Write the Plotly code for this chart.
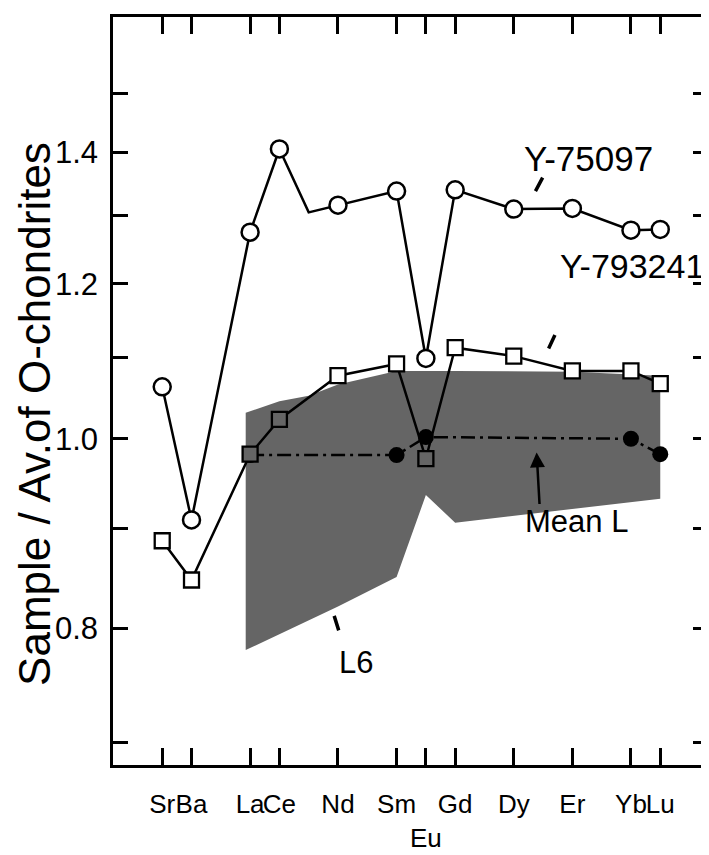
import numpy as np
import plotly.graph_objects as go

# ---------------- data ----------------
elements = ["Sr", "Ba", "La", "Ce", "Nd", "Sm", "Eu", "Gd", "Dy", "Er", "Yb", "Lu"]
positions = [54, 55, 57, 58, 60, 62, 63, 64, 66, 68, 70, 71]

# Y-75097 (open circles); line has an extra unmarked vertex at Pr (pos 59)
y75097 = [1.063, 0.909, 1.275, 1.406, 1.316, 1.338, 1.099, 1.340, 1.310, 1.311, 1.278, 1.279]
pr_pos = 59
pr_val_75097 = 1.305

# Y-793241 (open squares)
y793241 = [0.887, 0.847, 0.982, 1.023, 1.077, 1.092, 0.977, 1.113, 1.102, 1.083, 1.083, 1.067]

# Mean L (filled circles)
meanL_el = ["La", "Sm", "Eu", "Yb", "Lu"]
meanL_val = [0.981, 0.981, 1.002, 1.000, 0.982]

# L6 range (shaded)
l6_upper_pos = [56.85, 58, 59, 60, 62, 64, 68, 71]
l6_upper_val = [1.031, 1.045, 1.052, 1.066, 1.083, 1.083, 1.082, 1.077]
l6_lower_pos = [56.85, 60, 62, 63, 64, 71]
l6_lower_val = [0.780, 0.821, 0.850, 0.936, 0.906, 0.932]

ytick_vals = [0.7, 0.8, 0.9, 1.0, 1.1, 1.2, 1.3, 1.4, 1.5]
ytick_text = ["", "0.8", "", "1.0", "", "1.2", "", "1.4", ""]

y_title = "Sample / Av.of O-chondrites"

# ---------------- figure ----------------
pos_of = dict(zip(elements, positions))
FONT = "Liberation Sans"

fig = go.Figure()

# L6 shaded field
poly_x = l6_upper_pos + l6_lower_pos[::-1]
poly_y = l6_upper_val + l6_lower_val[::-1]
fig.add_trace(go.Scatter(
    x=poly_x, y=poly_y, fill="toself", mode="lines",
    line=dict(width=0), fillcolor="#656565", hoverinfo="skip", showlegend=False))

# Mean L
fig.add_trace(go.Scatter(
    x=[pos_of[e] for e in meanL_el], y=meanL_val, mode="lines+markers",
    line=dict(color="black", width=2.5, dash="14px,5px,3px,5px"),
    marker=dict(symbol="circle", size=16, color="black"),
    showlegend=False))

# Y-793241
sq_fill = ["white", "white", "#656565", "#656565", "white", "white", "#656565",
           "white", "white", "white", "white", "white"]
fig.add_trace(go.Scatter(
    x=positions, y=y793241, mode="lines+markers",
    line=dict(color="black", width=2.5),
    marker=dict(symbol="square", size=15, color=sq_fill,
                line=dict(color="black", width=2.3)),
    showlegend=False))

# Y-75097 line (including unmarked Pr vertex)
x75 = positions[:4] + [pr_pos] + positions[4:]
y75 = y75097[:4] + [pr_val_75097] + y75097[4:]
fig.add_trace(go.Scatter(
    x=x75, y=y75, mode="lines",
    line=dict(color="black", width=2.5),
    showlegend=False))
# Y-75097 markers
fig.add_trace(go.Scatter(
    x=positions, y=y75097, mode="markers",
    marker=dict(symbol="circle", size=17, color="white",
                line=dict(color="black", width=2.5)),
    showlegend=False))

# ---------------- annotations ----------------
def L(v):
    return float(np.log10(v))

anns = [
    dict(x=68.54, y=L(1.390), text="Y-75097", font=dict(size=35, family=FONT, color="black")),
    dict(x=70.05, y=L(1.225), text="Y-793241", font=dict(size=34, family=FONT, color="black")),
    dict(x=68.14, y=L(0.907), text="Mean L", font=dict(size=31, family=FONT, color="black")),
    dict(x=60.62, y=L(0.769), text="L6", font=dict(size=31, family=FONT, color="black")),
]
for a in anns:
    a.update(showarrow=False, xref="x", yref="y", xanchor="center", yanchor="middle")

# y-axis title as a rotated annotation (placed like the original)
anns.append(dict(text=y_title, textangle=-90, showarrow=False,
                 xref="paper", yref="paper", x=-0.132, y=0.47,
                 xanchor="center", yanchor="middle",
                 font=dict(size=44, family=FONT, color="black")))

arrows = [
    dict(x=66.74, y=L(1.338), ax=8, ay=-15, arrowhead=0, arrowwidth=3.5),
    dict(x=67.19, y=L(1.112), ax=7, ay=-15, arrowhead=0, arrowwidth=3.5),
    dict(x=66.78, y=L(0.984), ax=3, ay=53, arrowhead=2, arrowsize=1.2, arrowwidth=2.5),
    dict(x=59.87, y=L(0.812), ax=5, ay=16, arrowhead=0, arrowwidth=3.5),
]
for a in arrows:
    a.update(text="", showarrow=True, xref="x", yref="y", arrowcolor="black", standoff=0)

fig.update_layout(
    width=701, height=847,
    margin=dict(l=105, r=1, t=9, b=90, autoexpand=False),
    paper_bgcolor="white", plot_bgcolor="white",
    annotations=anns + arrows,
    showlegend=False,
    xaxis=dict(
        range=[52.32, 72.63], automargin=False,
        tickmode="array", tickvals=positions,
        ticktext=[("<br>" + e) if e == "Eu" else e for e in elements],
        tickangle=0,
        ticks="inside", ticklen=17, tickwidth=2.5, tickcolor="black",
        showline=True, linewidth=2.5, linecolor="black", mirror="ticks",
        showgrid=False, zeroline=False,
        tickfont=dict(size=26, family=FONT, color="black"),
        ticklabelstandoff=14,
    ),
    yaxis=dict(
        type="log", automargin=False,
        range=[np.log10(0.6814), np.log10(1.642)],
        tickmode="array", tickvals=ytick_vals, ticktext=ytick_text,
        ticks="inside", ticklen=15, tickwidth=2.5, tickcolor="black",
        showline=True, linewidth=2.5, linecolor="black", mirror="ticks",
        showgrid=False, zeroline=False,
        tickfont=dict(size=31, family=FONT, color="black"),
        ticklabelstandoff=6,
    ),
)

fig.write_html("out.html")
